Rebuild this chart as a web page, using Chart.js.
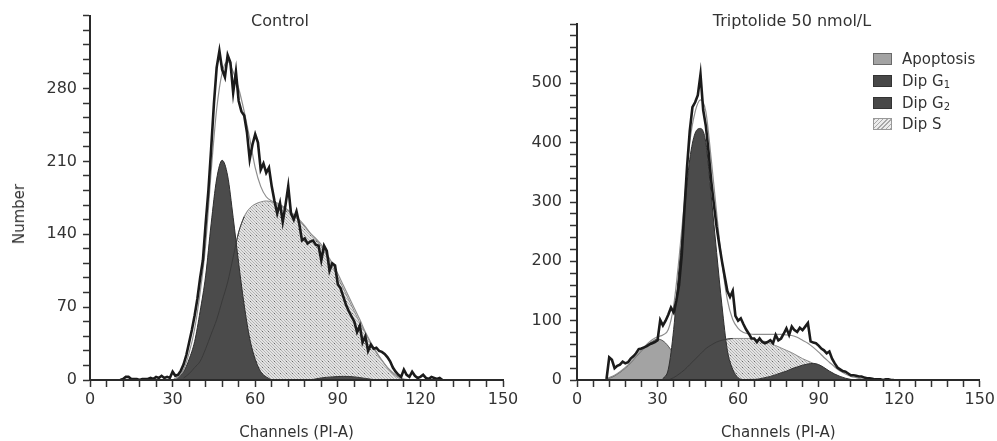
<!DOCTYPE html>
<html><head><meta charset="utf-8">
<script src="https://cdn.jsdelivr.net/npm/chart.js@4.4.1/dist/chart.umd.min.js"></script>
<style>
html,body{margin:0;padding:0;background:#fff;width:997px;height:441px;overflow:hidden;font-family:'DejaVu Sans',sans-serif;color:#333}
.wrap{position:absolute;top:0}
.ttl{position:absolute;font-size:16px;line-height:18px;white-space:nowrap;transform:translate(-50%,-50%)}
.ylab{position:absolute;font-size:15px;line-height:18px;white-space:nowrap;transform:translate(-50%,-50%) rotate(-90deg)}
.bx{position:absolute;width:19px;height:12px;box-sizing:border-box;border:1px solid #333}
.lt{position:absolute;font-size:15px;line-height:18px;white-space:nowrap}
.lt sub{font-size:10px;vertical-align:-2px;line-height:0}
</style></head>
<body>
<div class="wrap" style="left:0;width:525px;height:441px"><canvas id="c1" width="525" height="441"></canvas></div>
<div class="wrap" style="left:510px;width:488px;height:441px"><canvas id="c2" width="488" height="441"></canvas></div>
<div class="ttl" style="left:280px;top:21px">Control</div>
<div class="ttl" style="left:792px;top:21px">Triptolide 50 nmol/L</div>
<div class="ylab" style="left:19px;top:214px">Number</div>
<div class="bx" style="left:873px;top:53px;background:#a3a3a3;border-color:#6a6a6a"></div>
<div class="bx" style="left:873px;top:75px;background:#484848;border-color:#333"></div>
<div class="bx" style="left:873px;top:97px;background:#484848;border-color:#333"></div>
<div class="bx" style="left:873px;top:118px;background:repeating-linear-gradient(135deg,#a8a8a8 0 1px,#ececec 1px 3px);border-color:#999"></div>
<div class="lt" style="left:902px;top:50px">Apoptosis</div>
<div class="lt" style="left:902px;top:72px">Dip G<sub>1</sub></div>
<div class="lt" style="left:902px;top:94px">Dip G<sub>2</sub></div>
<div class="lt" style="left:902px;top:115px">Dip S</div>
<script>
// ---------- tick labels ----------
const xLabels = [0, 30, 60, 90, 120, 150];
const ctrlYLabels = [0, 70, 140, 210, 280];
const tripYLabels = [0, 100, 200, 300, 400, 500];

// ---------- Control: raw histogram (one value per channel, starting at channel 11) ----------
const ctrlRawStart = 11;
const ctrlRaw = [
  0,1,3,3,1,1,1,0,1,1,
  1,2,1,3,2,4,2,3,2,8,
  4,5,9,15,24,36,48,62,78,98,
  115,150,182,222,265,300,316,298,291,312,
  305,276,296,268,258,254,238,212,226,236,
  228,202,208,199,204,186,172,160,170,152,
  168,186,160,154,162,150,134,136,131,133,
  134,130,129,115,129,124,105,112,110,92,
  88,80,72,66,61,56,46,52,36,42,
  28,34,30,31,28,27,25,22,18,12,
  8,5,3,10,5,3,8,4,2,3,
  5,2,1,3,2,1,2,0
];
// Control: fitted components
const ctrlG1Ch = [30,32,34,36,38,40,42,44,46,48,50,52,54,56,58,60,62,64,66];
const ctrlG1   = [0,3,8,20,37,66,100,150,193,211,196,156,112,72,40,20,8,3,0];
const ctrlSCh  = [34,36,38,40,42,44,46,48,50,52,54,56,58,60,62,64,66,68,70,72,74,76,78,80,82,84,86,88,90,92,94,96,98,100,102,104,106,108,110,112,114];
const ctrlS    = [2,6,12,18,30,44,58,76,94,118,142,157,165,169,171,172,171,169,166,162,158,153,147,141,135,128,119,109,99,88,77,66,55,45,35,26,19,12,6,2,0];
const ctrlG2Ch = [80,84,88,92,96,100,104];
const ctrlG2   = [0,2,3,3.5,3,1.5,0];
const ctrlFitCh = [30,32,34,36,38,40,42,44,46,48,50,52,54,56,58,60,62,64,66,68,70,72,74,76,78,80,82,84,86,88,90,92,94,96,98,100,102,104,106,108,110,112,114,116];
const ctrlFit   = [0,3,10,26,49,84,130,200,260,295,306,296,280,258,232,204,186,176,172,170,167,163,159,154,148,141,136,130,121,112,102,91,80,69,58,46,36,27,19,12,7,3,1,0];

// ---------- Triptolide: raw histogram (starting at channel 11) ----------
const tripRawStart = 11;
const tripRaw = [
  2,38,34,20,24,26,31,28,30,36,
  40,45,52,53,55,57,60,62,64,67,
  101,92,100,110,122,114,134,160,210,287,
  360,420,460,468,480,515,455,428,385,335,
  295,258,228,200,175,150,140,150,108,100,
  104,94,85,78,70,70,64,70,64,62,
  64,67,62,76,67,70,78,87,76,90,
  84,81,88,84,90,96,65,63,62,58,
  53,50,45,48,36,28,21,18,15,14,
  11,8,8,7,6,6,4,3,3,2,
  1,1,1,0,1,1,0,0
];
// Triptolide: fitted components
const tripApoCh = [10,12,14,16,18,20,22,24,26,28,30,32,34,36,38,40,42,44,46];
const tripApo   = [0,3,7,13,20,29,39,49,58,65,69,66,57,44,30,17,8,3,0];
const tripG1Ch  = [32,34,36,38,40,42,44,46,48,50,52,54,56,58,60,62];
const tripG1    = [2,18,85,190,285,372,416,424,400,310,215,125,50,18,4,0];
const tripSCh   = [34,36,38,40,42,44,46,48,50,52,54,56,58,60,62,64,66,68,70,72,74,76,78,80,82,84,86,88,90,92,94,96,98,100,102];
const tripS     = [0,4,10,17,26,35,44,53,59,64,67,69,70,70,70,70,69,67,65,62,58,54,50,46,41,36,32,28,23,18,13,8,4,1,0];
const tripG2Ch  = [62,64,66,68,70,72,74,76,78,80,82,84,86,88,90,92,94,96,98,100,102,104];
const tripG2    = [0,1,1,2,4,6,9,12,15,19,22,25,27,28,26,21,15,10,6,3,1,0];
const tripFitCh = [10,12,14,16,18,20,22,24,26,28,30,32,34,36,38,40,42,44,46,48,50,52,54,56,58,60,62,64,66,68,70,72,74,76,78,80,82,84,86,88,90,92,94,96,98,100,102,104,106,108,110];
const tripFit   = [0,4,8,14,21,30,40,51,60,68,73,76,85,125,205,300,400,452,472,452,372,282,198,135,102,87,80,78,77,77,77,77,77,77,76,75,72,67,62,55,47,38,30,22,15,10,6,4,2,1,0];

// ---------- helpers ----------
Chart.defaults.font.family = "'DejaVu Sans', sans-serif";
Chart.defaults.color = '#333';
function chanSeries(start, vals){ return vals.map((v,i)=>({x:start+i, y:v})); }
function pairs(ch, vals){ return ch.map((c,i)=>({x:c, y:vals[i]})); }
function stepTicks(min,max,step){ const t=[]; for(let k=0; min+k*step<=max+1e-9; k++) t.push({value:min+k*step}); return t; }
function makePattern(){
  const c=document.createElement('canvas'); c.width=6; c.height=6;
  const g=c.getContext('2d');
  g.fillStyle='#e3e3e3'; g.fillRect(0,0,6,6);
  g.fillStyle='#b4b4b4';
  for(let i=0;i<6;i++){ g.fillRect(i,i,1,1); g.fillRect(i,(i+3)%6,1,1); }
  g.fillStyle='#666'; g.fillRect(4,1,1,1);
  return g.createPattern(c,'repeat');
}
const dotPattern = makePattern();

function lineDs(data, color, width, order, extra){
  return Object.assign({data, borderColor:color, borderWidth:width, pointRadius:0, fill:false, order, tension:0}, extra||{});
}
function areaDs(data, bg, border, order){
  return {data, backgroundColor:bg, borderColor:border, borderWidth:1, pointRadius:0, fill:'origin', order, cubicInterpolationMode:'monotone'};
}
function axisOpts(kind, max, step, labels, fixed, pad){
  const o = {
    type:'linear', min:0, max:max,
    afterBuildTicks: s => { s.ticks = stepTicks(0, max, step); },
    ticks:{ autoSkip:false, maxRotation:0, minRotation:0, padding:pad, font:{size:16}, color:'#333',
            callback: v => labels.includes(v) ? String(v) : '' },
    grid:{ drawOnChartArea:false, drawTicks:true, tickLength:7, tickColor:'#333', tickWidth:1.5 },
    border:{ display:true, color:'#2a2a2a', width:2, z:1 }
  };
  if (kind==='x'){
    o.title = { display:true, text:'Channels (PI-A)', font:{size:15, lineHeight:1}, padding:{top:0,bottom:0}, color:'#333' };
    o.afterFit = s => { s.height = fixed; };
  } else {
    o.afterFit = s => { s.width = fixed; };
  }
  return o;
}
function baseOpts(yMax, yStep, yLabels, yWidth, padTop, padRight, yPad){
  return {
    responsive:false, animation:false, devicePixelRatio:1,
    layout:{ padding:{ left:0, right:padRight, top:padTop, bottom:0 } },
    plugins:{ legend:{display:false}, tooltip:{enabled:false}, title:{display:false} },
    scales:{
      x: axisOpts('x', 150, 6, xLabels, 61, 3),
      y: axisOpts('y', yMax, yStep, yLabels, yWidth, yPad)
    }
  };
}

// ---------- Control chart ----------
new Chart(document.getElementById('c1'), {
  type:'line',
  data:{ datasets:[
    lineDs(chanSeries(ctrlRawStart, ctrlRaw), '#1b1b1b', 2.6, 0),
    lineDs(pairs(ctrlFitCh, ctrlFit), '#8e8e8e', 1.2, 1, {cubicInterpolationMode:'monotone'}),
    lineDs(pairs(ctrlSCh, ctrlS).filter(p => p.x <= 56), '#3a3a3a', 1, 2, {cubicInterpolationMode:'monotone'}),
    areaDs(pairs(ctrlG2Ch, ctrlG2), '#4b4b4b', '#333', 3),
    areaDs(pairs(ctrlG1Ch, ctrlG1), '#4b4b4b', '#2e2e2e', 4),
    areaDs(pairs(ctrlSCh, ctrlS), dotPattern, '#8a8a8a', 5)
  ]},
  options: baseOpts(350, 14, ctrlYLabels, 90, 13, 22, 6)
});

// ---------- Triptolide chart ----------
new Chart(document.getElementById('c2'), {
  type:'line',
  data:{ datasets:[
    lineDs(chanSeries(tripRawStart, tripRaw), '#1b1b1b', 2.6, 0),
    lineDs(pairs(tripFitCh, tripFit), '#8e8e8e', 1.2, 1, {cubicInterpolationMode:'monotone'}),
    lineDs(pairs(tripSCh, tripS).filter(p => p.x <= 58), '#3a3a3a', 1, 2, {cubicInterpolationMode:'monotone'}),
    areaDs(pairs(tripG2Ch, tripG2), '#4b4b4b', '#333', 3),
    areaDs(pairs(tripG1Ch, tripG1), '#4b4b4b', '#2e2e2e', 4),
    areaDs(pairs(tripApoCh, tripApo), '#a3a3a3', '#555', 5),
    areaDs(pairs(tripSCh, tripS), dotPattern, '#8a8a8a', 6)
  ]},
  options: baseOpts(600, 20, tripYLabels, 67, 24, 16, 8)
});
</script>
</body></html>
